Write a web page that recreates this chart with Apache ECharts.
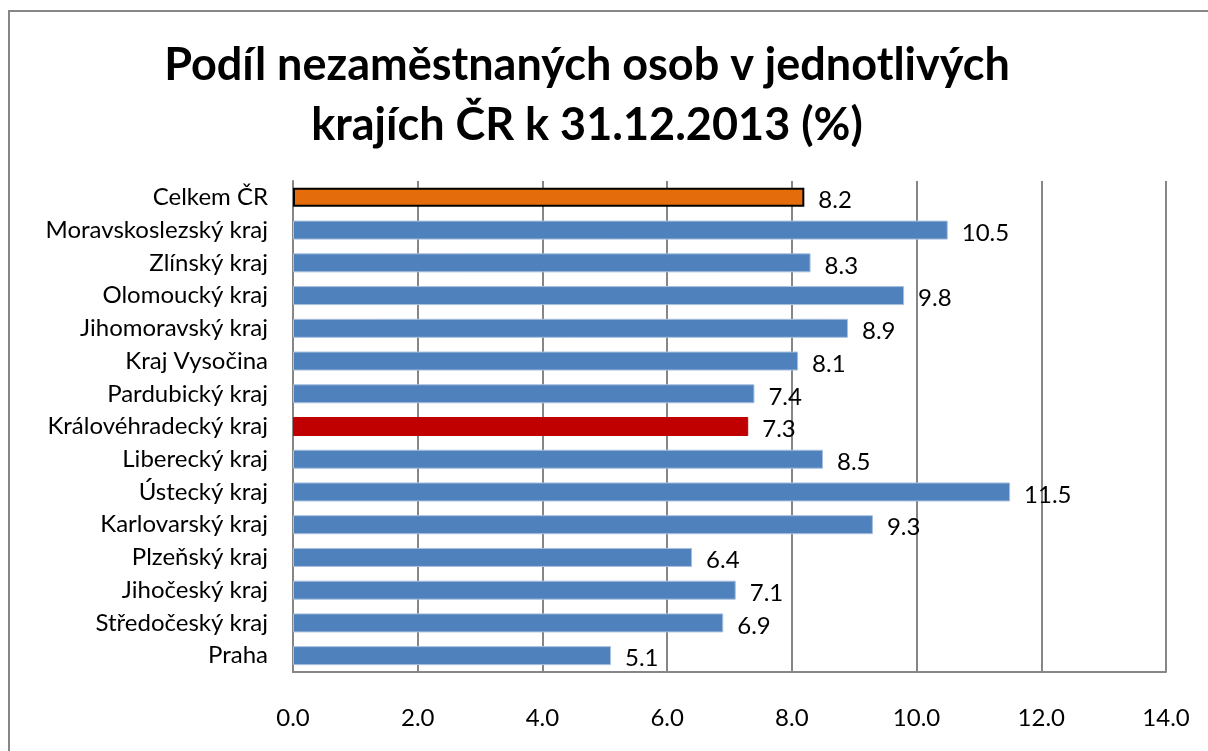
<!DOCTYPE html>
<html>
<head>
<meta charset="utf-8">
<script src="https://cdn.jsdelivr.net/npm/echarts@6/dist/echarts.min.js"></script>
<style>
html,body{margin:0;padding:0;background:#fff;}
#c{width:1208px;height:751px;}
</style>
</head>
<body>
<div id="c"></div>
<script>
const categories = ["Praha","Středočeský kraj","Jihočeský kraj","Plzeňský kraj","Karlovarský kraj","Ústecký kraj","Liberecký kraj","Královéhradecký kraj","Pardubický kraj","Kraj Vysočina","Jihomoravský kraj","Olomoucký kraj","Zlínský kraj","Moravskoslezský kraj","Celkem ČR"];
const values = [5.1,6.9,7.1,6.4,9.3,11.5,8.5,7.3,7.4,8.1,8.9,9.8,8.3,10.5,8.2];
const xTicks = [0,2,4,6,8,10,12,14];
const titleText = "Podíl nezaměstnaných osob v jednotlivých\nkrajích ČR k 31.12.2013 (%)";

const FONT = "Lato";
const chart = echarts.init(document.getElementById('c'));
const data = values.map((v, i) => {
  const c = categories[i];
  if (c === "Celkem ČR") return {value: v, itemStyle: {color: '#E46C0A', borderColor: '#000', borderWidth: 2}};
  if (c === "Královéhradecký kraj") return {value: v, itemStyle: {color: '#C00000', borderColor: '#C00000', borderWidth: 1}};
  return v;
});
chart.setOption({
  animation: false,
  backgroundColor: '#fff',
  title: {
    text: titleText,
    left: 582, top: 30, textAlign: 'center',
    textStyle: {fontFamily: FONT, fontWeight: 'bold', fontSize: 45, lineHeight: 60, color: '#000'}
  },
  graphic: [{
    type: 'rect', shape: {x: 9, y: 11, width: 1300, height: 900},
    style: {fill: 'none', stroke: '#868686', lineWidth: 2}, silent: true
  }],
  grid: {left: 293, right: 42, top: 181, bottom: 79, containLabel: false},
  xAxis: {
    type: 'value', min: 0, max: 14, interval: 2,
    axisLine: {show: true, lineStyle: {color: '#868686', width: 2}},
    axisTick: {show: false},
    splitLine: {show: true, lineStyle: {color: '#868686', width: 2}},
    axisLabel: {margin: 34, fontFamily: FONT, fontSize: 24, color: '#000',
      formatter: v => xTicks.includes(v) ? v.toFixed(1) : ''}
  },
  yAxis: {
    type: 'category', data: categories,
    axisLine: {show: true, lineStyle: {color: '#868686', width: 2}},
    axisTick: {show: false},
    axisLabel: {margin: 25, fontFamily: FONT, fontSize: 24, color: '#000'}
  },
  series: [{
    type: 'bar', data: data, barWidth: 19,
    itemStyle: {color: '#4F81BD', borderColor: '#A7C0DE', borderWidth: 1},
    label: {show: true, position: 'right', distance: 14, offset: [0, 3],
      fontFamily: FONT, fontSize: 24, color: '#000', formatter: p => p.value.toFixed(1)}
  }]
});
</script>
</body>
</html>
